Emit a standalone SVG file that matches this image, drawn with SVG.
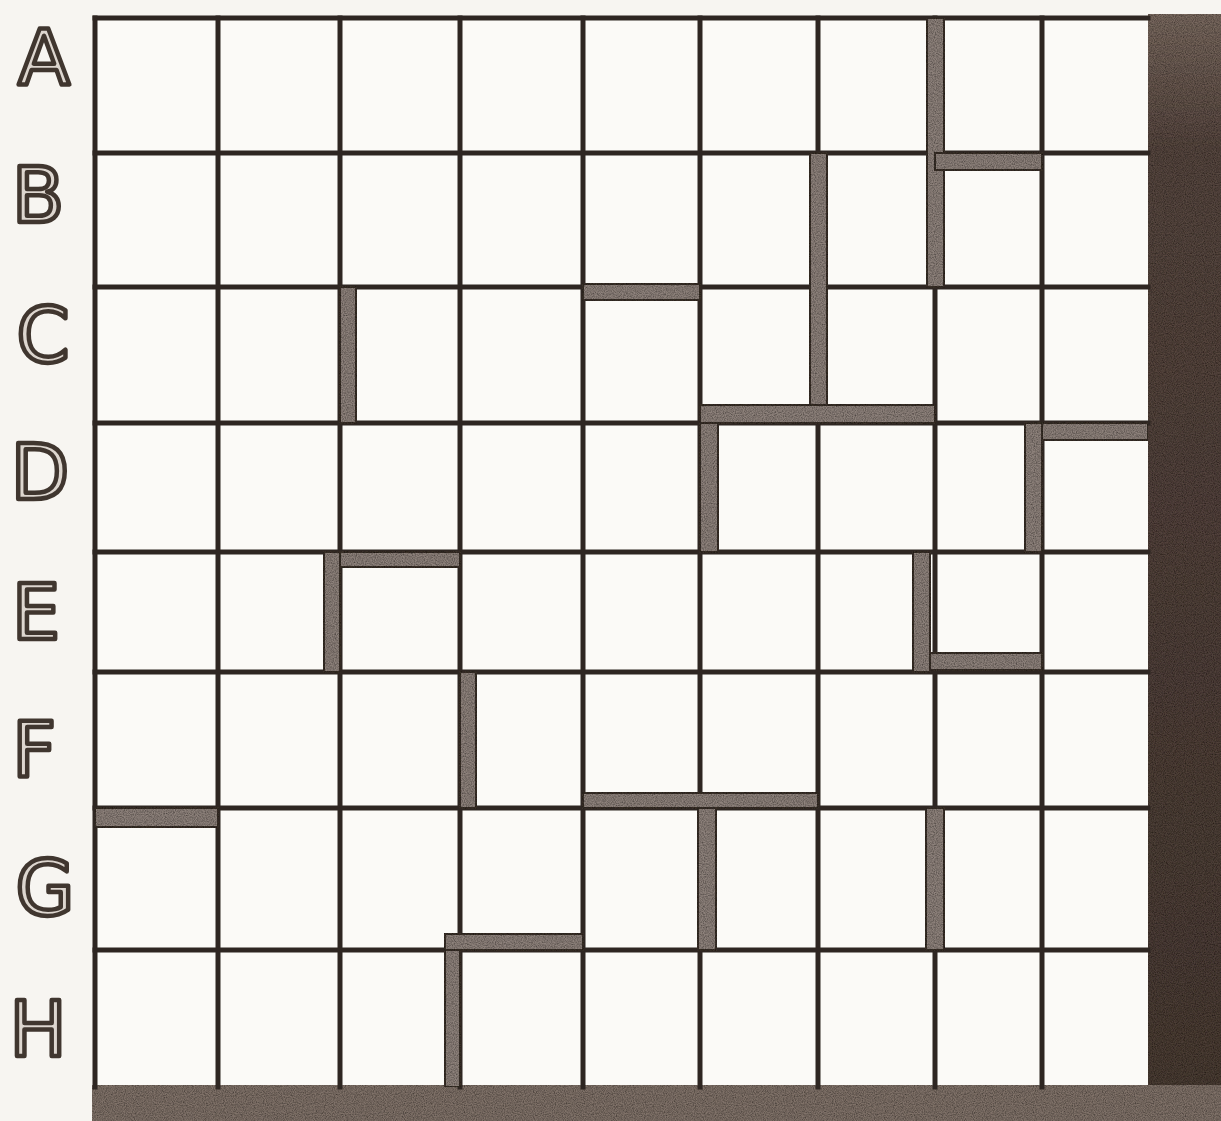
<svg xmlns="http://www.w3.org/2000/svg" width="1221" height="1121" viewBox="0 0 1221 1121">
  <defs>
    <filter id="grain" x="0" y="0" width="100%" height="100%">
      <feTurbulence type="fractalNoise" baseFrequency="0.9" numOctaves="2" seed="3" result="n"/>
      <feColorMatrix in="n" type="matrix" values="0 0 0 0 0  0 0 0 0 0  0 0 0 0 0  0 0 0 1.2 -0.35" result="a"/>
      <feComposite in="a" in2="SourceGraphic" operator="in" result="dots"/>
      <feMerge><feMergeNode in="SourceGraphic"/><feMergeNode in="dots"/></feMerge>
    </filter>
    <linearGradient id="rband" x1="0" y1="0" x2="0" y2="1">
      <stop offset="0" stop-color="#7a6a60"/>
      <stop offset="0.12" stop-color="#574740"/>
      <stop offset="1" stop-color="#4a3c35"/>
    </linearGradient>
  </defs>
  <style>
    .grid line { stroke: #2e2622; stroke-width: 5; stroke-linecap: square; }
    .wall { fill: #8e827b; stroke: #3a302b; stroke-width: 2; }
    .lbl { font-family: "DejaVu Sans", "Liberation Sans", sans-serif; font-size: 76px; fill: #ddd6cf; stroke: #40362f; stroke-width: 4.5; stroke-linejoin: round; text-anchor: middle; }
  </style>
  <rect x="0" y="0" width="1221" height="1121" fill="#f7f5f1"/>
  <rect x="95" y="18" width="1053" height="1069" fill="#fbfaf7"/>

  <g id="labels">
    <text class="lbl" x="44" y="84">A</text>
    <text class="lbl" x="38" y="222">B</text>
    <text class="lbl" x="43" y="362">C</text>
    <text class="lbl" x="40" y="499">D</text>
    <text class="lbl" x="36" y="639">E</text>
    <text class="lbl" x="34" y="777">F</text>
    <text class="lbl" x="45" y="915">G</text>
    <text class="lbl" x="38" y="1056">H</text>
  </g>

  <g id="bands" filter="url(#grain)">
    <rect x="1148" y="14" width="73" height="1107" fill="url(#rband)"/>
    <rect x="92" y="1085" width="1129" height="36" fill="#807269"/>
  </g>

  <g id="grid" class="grid">
    <line x1="95" y1="18" x2="1148" y2="18"/>
    <line x1="95" y1="153" x2="1148" y2="153"/>
    <line x1="95" y1="287" x2="1148" y2="287"/>
    <line x1="95" y1="423" x2="1148" y2="423"/>
    <line x1="95" y1="552" x2="1148" y2="552"/>
    <line x1="95" y1="672" x2="1148" y2="672"/>
    <line x1="95" y1="808" x2="1148" y2="808"/>
    <line x1="95" y1="950" x2="1148" y2="950"/>
    <line x1="95" y1="18" x2="95" y2="1087"/>
    <line x1="218" y1="18" x2="218" y2="1087"/>
    <line x1="340" y1="18" x2="340" y2="1087"/>
    <line x1="460" y1="18" x2="460" y2="1087"/>
    <line x1="583" y1="18" x2="583" y2="1087"/>
    <line x1="700" y1="18" x2="700" y2="1087"/>
    <line x1="818" y1="18" x2="818" y2="1087"/>
    <line x1="935" y1="18" x2="935" y2="1087"/>
    <line x1="1042" y1="18" x2="1042" y2="1087"/>
  </g>

  <g id="walls" filter="url(#grain)">
    <rect class="wall" x="927" y="18" width="17" height="269"/>
    <rect class="wall" x="810" y="153" width="17" height="270"/>
    <rect class="wall" x="340" y="287" width="16" height="136"/>
    <rect class="wall" x="700" y="423" width="18" height="129"/>
    <rect class="wall" x="1025" y="423" width="17" height="129"/>
    <rect class="wall" x="324" y="552" width="16" height="120"/>
    <rect class="wall" x="913" y="552" width="17" height="120"/>
    <rect class="wall" x="460" y="672" width="16" height="136"/>
    <rect class="wall" x="698" y="808" width="18" height="142"/>
    <rect class="wall" x="926" y="808" width="18" height="142"/>
    <rect class="wall" x="445" y="941" width="15" height="146"/>
    <rect class="wall" x="935" y="153" width="107" height="17"/>
    <rect class="wall" x="583" y="284" width="117" height="16"/>
    <rect class="wall" x="700" y="405" width="235" height="18"/>
    <rect class="wall" x="1042" y="423" width="106" height="17"/>
    <rect class="wall" x="340" y="552" width="120" height="15"/>
    <rect class="wall" x="930" y="653" width="112" height="17"/>
    <rect class="wall" x="583" y="793" width="235" height="15"/>
    <rect class="wall" x="95" y="808" width="123" height="19"/>
    <rect class="wall" x="445" y="934" width="138" height="16"/>
  </g>
</svg>
